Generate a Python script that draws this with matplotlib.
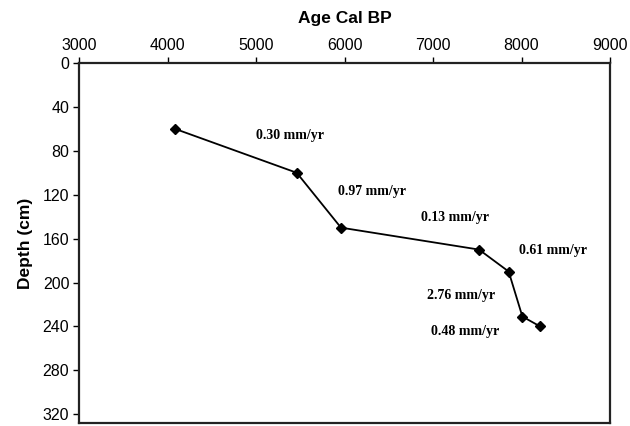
import matplotlib
matplotlib.use("Agg")
import matplotlib.pyplot as plt

age = [4085, 5460, 5960, 7520, 7855, 8010, 8210]
depth = [60, 100, 150, 170, 190, 231, 240]

rate_labels = ["0.30 mm/yr", "0.97 mm/yr", "0.13 mm/yr", "0.61 mm/yr", "2.76 mm/yr", "0.48 mm/yr"]
label_age = [5384, 6307, 7249, 8360, 7316, 7362]
label_depth = [65.6, 116.7, 140.7, 170.5, 211.5, 245]

xticks = [3000, 4000, 5000, 6000, 7000, 8000, 9000]
yticks = [0, 40, 80, 120, 160, 200, 240, 280, 320]

fig = plt.figure(figsize=(6.3, 4.26), dpi=100)
ax = fig.add_axes([79/630, 1-423/426, (610-79)/630, (423-63)/426])

ax.plot(age, depth, color="black", lw=1.3, marker="D", ms=5.5, mfc="black", mec="black")

for t, a, d in zip(rate_labels, label_age, label_depth):
    ax.text(a, d, t, ha="center", va="center", fontsize=10, fontweight="bold",
            family="Liberation Serif")

ax.set_xlim(3000, 9000)
ax.set_ylim(328, 0)
ax.set_xticks(xticks)
ax.set_yticks(yticks)
ax.xaxis.tick_top()
ax.xaxis.set_label_position("top")
ax.tick_params(axis="both", labelsize=11.5, length=4, width=1, direction="out", pad=3)
for lab in ax.get_xticklabels() + ax.get_yticklabels():
    lab.set_family("Liberation Sans")
ax.set_xlabel("Age Cal BP", fontsize=12.5, fontweight="bold", family="Liberation Sans", labelpad=11)
ax.set_ylabel("Depth (cm)", fontsize=12.5, fontweight="bold", family="Liberation Sans", labelpad=7)
for s in ax.spines.values():
    s.set_linewidth(1.6)
    s.set_color("#222222")

fig.savefig("out.png", dpi=100)
